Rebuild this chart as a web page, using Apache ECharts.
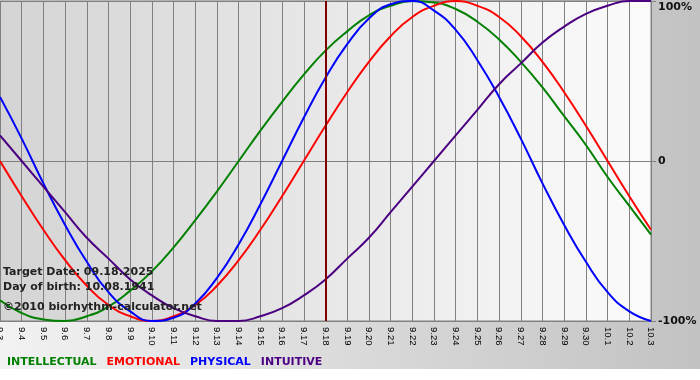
<!DOCTYPE html>
<html>
<head>
<meta charset="utf-8">
<script src="https://cdn.jsdelivr.net/npm/echarts@6/dist/echarts.min.js"></script>
<style>
html,body{margin:0;padding:0;background:#fff;}
#c{width:700px;height:380px;}
</style>
</head>
<body>
<div id="c"></div>
<script>
const days = ['9.3','9.4','9.5','9.6','9.7','9.8','9.9','9.10','9.11','9.12','9.13','9.14','9.15','9.16','9.17','9.18','9.19','9.20','9.21','9.22','9.23','9.24','9.25','9.26','9.27','9.28','9.29','9.30','10.1','10.2','10.3'];
const intellectual = [-87,-95,-99,-100,-97,-91,-81,-69,-54,-37,-19,0,19,37,54,69,81,91,97,100,99,95,87,76,62,46,28,10,-10,-28,-46];
const emotional = [0,-22,-43,-62,-78,-90,-97,-100,-97,-90,-78,-62,-43,-22,0,22,43,62,78,90,97,100,97,90,78,62,43,22,0,-22,-43];
const physical = [40,14,-14,-40,-63,-82,-94,-100,-98,-89,-73,-52,-27,0,27,52,73,89,98,100,94,82,63,40,14,-14,-40,-63,-82,-94,-100];
const intuitive = [16,0,-16,-32,-48,-61,-74,-84,-92,-97,-100,-100,-97,-92,-84,-74,-61,-48,-32,-16,0,16,32,48,61,74,84,92,97,100,100];
const targetDay = '9.18';
const infoLines = ['Target Date: 09.18.2025', 'Day of birth: 10.08.1941', '\u00a92010 biorhythm-calculator.net'];

const colors = {INTELLECTUAL:'#008000', EMOTIONAL:'#ff0000', PHYSICAL:'#0000ff', INTUITIVE:'#4b0082'};
const seriesData = [['INTELLECTUAL', intellectual], ['EMOTIONAL', emotional], ['PHYSICAL', physical], ['INTUITIVE', intuitive]];

const chart = echarts.init(document.getElementById('c'), null, {renderer:'canvas'});
const lin = (c0, c1) => new echarts.graphic.LinearGradient(0,0,1,0,[{offset:0,color:c0},{offset:1,color:c1}]);
const font = 'DejaVu Sans, Verdana, sans-serif';

const series = seriesData.map(([name, data], i) => {
  const s = {
    name, type:'line', data, smooth:0.5, symbol:'none',
    lineStyle:{color:colors[name], width:2}, itemStyle:{color:colors[name]},
    animation:false, z: 3
  };
  if (i === 0) {
    s.markLine = {
      symbol:'none', silent:true, label:{show:false},
      lineStyle:{color:'#800000', width:2, type:'solid'},
      data:[{xAxis: targetDay}], animation:false
    };
  }
  return s;
});

chart.setOption({
  animation:false,
  backgroundColor:'#ffffff',
  graphic:[
    {type:'rect', z:-100, silent:true, shape:{x:0,y:0,width:700,height:369}, style:{fill: lin('#f2f2f2','#c2c2c2')}},
    ...infoLines.map((t, i) => ({
      type:'text', z:100, silent:true, left:3, top:[267, 282, 302][i],
      style:{text:t, fill:'#222222', font:'bold 11px ' + font}
    }))
  ],
  grid:{left:0, right:49, top:1, bottom:59, outerBoundsMode:'none', containLabel:false, show:true, backgroundColor: lin('#d4d4d4','#fbfbfb'), borderColor:'#808080', borderWidth:1},
  legend:{
    left:2, top:357, padding:0, itemWidth:0, itemHeight:0, itemGap:5, icon:'rect',
    textStyle:{fontFamily:font, fontWeight:'bold', fontSize:11},
    data: seriesData.map(([n]) => ({name:n, textStyle:{color:colors[n]}})),
    selectedMode:false
  },
  xAxis:{
    type:'category', data:days, boundaryGap:false,
    axisLine:{lineStyle:{color:'#808080'}},
    axisTick:{show:true, length:6, interval:0, lineStyle:{color:'#808080'}},
    splitLine:{show:true, interval:0, lineStyle:{color:'#808080', width:1}},
    axisLabel:{interval:0, rotate:-90, margin:6, color:'#000000', fontFamily:'Liberation Sans, Arial, sans-serif', fontSize:9.5, hideOverlap:false}
  },
  yAxis:{
    type:'value', position:'right', min:-100, max:100, interval:100,
    axisLine:{show:true, lineStyle:{color:'#808080'}},
    axisTick:{show:true, length:5, lineStyle:{color:'#808080'}},
    splitLine:{show:true, lineStyle:{color:'#808080', width:1}},
    axisLabel:{
      margin:7, color:'#111111', fontFamily:font, fontWeight:'bold', fontSize:11,
      formatter: v => v === 100 ? '{t|100%}' : (v === 0 ? '0' : v + '%'),
      rich:{t:{padding:[12,0,0,0], fontFamily:font, fontWeight:'bold', fontSize:11, color:'#111111'}}
    }
  },
  series
});
</script>
</body>
</html>
